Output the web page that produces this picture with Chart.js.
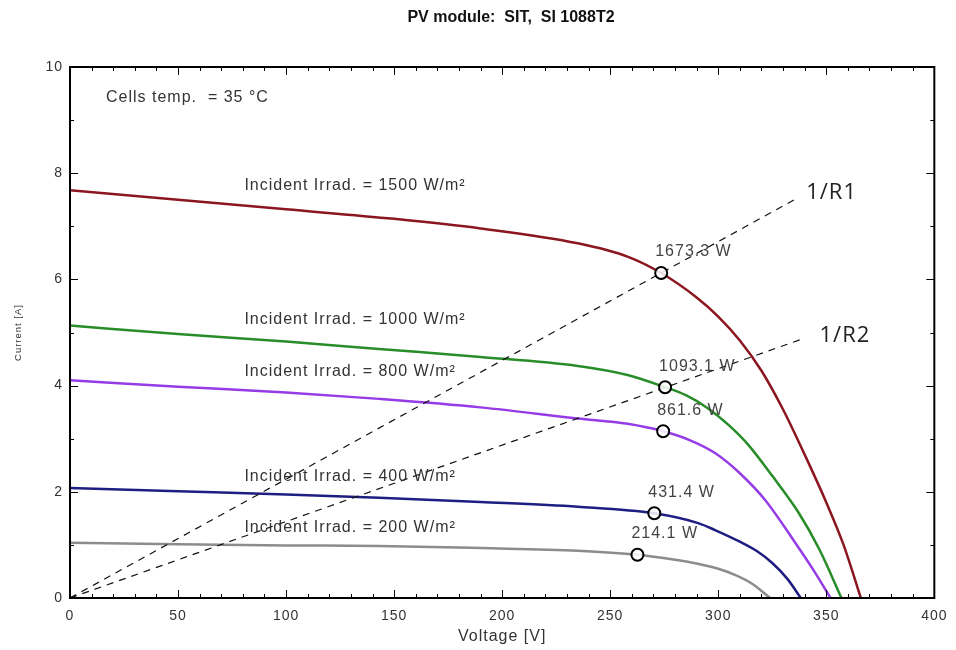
<!DOCTYPE html>
<html>
<head>
<meta charset="utf-8">
<script src="https://cdn.jsdelivr.net/npm/chart.js@4.4.1/dist/chart.umd.min.js"></script>
<style>
  html, body { margin: 0; padding: 0; background: #fff; }
  #wrap { width: 956px; height: 650px; }
</style>
</head>
<body>
<div id="wrap"><canvas id="ivChart" width="956" height="650"></canvas></div>
<script>
// I-V curves (voltage V, current A)
const irradLabels = ['1500', '1000', '800', '400', '200'];
const curveColors = ['rgb(140, 22, 32)', 'rgb(40, 140, 40)', 'rgb(150, 60, 230)', 'rgb(30, 30, 130)', 'rgb(140, 140, 140)'];

const volt1500 = [0, 50, 100, 150, 190, 235, 258, 273.6, 290, 300, 310, 320, 330, 340, 350, 358, 366];
const amp1500  = [7.68, 7.50, 7.32, 7.14, 6.96, 6.68, 6.43, 6.12, 5.66, 5.30, 4.85, 4.28, 3.55, 2.70, 1.80, 1.00, 0];

const volt1000 = [0, 50, 100, 143, 190, 235, 258, 275.4, 285, 295, 305, 314, 325, 337, 347, 357];
const amp1000  = [5.13, 4.97, 4.83, 4.69, 4.54, 4.37, 4.20, 3.97, 3.82, 3.58, 3.25, 2.88, 2.30, 1.62, 0.90, 0];

const volt800 = [0, 50, 100, 143, 190, 235, 258, 274.5, 287, 298.5, 310, 321.6, 336.8, 344, 352];
const amp800  = [4.10, 3.98, 3.87, 3.75, 3.59, 3.38, 3.28, 3.14, 2.97, 2.73, 2.35, 1.85, 0.97, 0.53, 0];

const volt400 = [0, 50, 100, 143, 190, 235, 270.4, 290.7, 298.5, 310, 318, 325, 332, 338.2];
const amp400  = [2.07, 2.01, 1.95, 1.89, 1.81, 1.72, 1.595, 1.41, 1.28, 1.06, 0.88, 0.66, 0.36, 0];

const volt200 = [0, 50, 100, 143, 190, 235, 262.6, 280, 290, 300, 308, 316, 324];
const amp200  = [1.04, 1.01, 0.99, 0.98, 0.94, 0.89, 0.815, 0.72, 0.65, 0.55, 0.43, 0.26, 0];

// maximum power points
const mppVolt = [273.6, 275.4, 274.5, 270.4, 262.6];
const mppAmp = [6.12, 3.97, 3.14, 1.595, 0.815];
const mppPower = ['1673.3 W', '1093.1 W', '861.6 W', '431.4 W', '214.1 W'];

// load lines 1/R1 and 1/R2 (from origin)
const loadNames = ['1/R1', '1/R2'];
const loadVolt = [[0, 337], [0, 339]];
const loadAmp = [[0, 7.54], [0, 4.88]];

// where the irradiance captions sit (data units)
const irradTextVolt = 80.7;
const irradTextAmp = [7.76, 5.25, 4.27, 2.28, 1.32];

const xTicks = [0, 50, 100, 150, 200, 250, 300, 350, 400];
const yTicks = [0, 2, 4, 6, 8, 10];

const curveVolts = [volt1500, volt1000, volt800, volt400, volt200];
const curveAmps = [amp1500, amp1000, amp800, amp400, amp200];

const FONT = '"Liberation Sans", Arial, sans-serif';

function toPoints(xs, ys) {
  return xs.map((x, i) => ({ x: x, y: ys[i] }));
}

function buildDatasets() {
  const sets = [];

  sets.push({
    label: 'MPP',
    data: toPoints(mppVolt, mppAmp),
    showLine: false,
    pointRadius: 6,
    pointBorderWidth: 2,
    pointBorderColor: '#000',
    pointBackgroundColor: 'rgba(255,255,255,0.85)',
    order: 0,
  });

  loadNames.forEach((name, i) => {
    sets.push({
      label: name,
      data: toPoints(loadVolt[i], loadAmp[i]),
      showLine: true,
      borderColor: '#111',
      borderWidth: 1.2,
      borderDash: [7, 6],
      pointRadius: 0,
      order: 1,
    });
  });

  irradLabels.forEach((irr, i) => {
    sets.push({
      label: irr + ' W/m²',
      data: toPoints(curveVolts[i], curveAmps[i]),
      showLine: true,
      borderColor: curveColors[i],
      borderWidth: 2.5,
      pointRadius: 0,
      cubicInterpolationMode: 'monotone',
      order: 2,
    });
  });

  return sets;
}

// frame, inward ticks and the loose texts on the plot
const framePlugin = {
  id: 'framePlugin',
  beforeDraw(chart) {
    // the source picture has widely spaced lettering
    chart.ctx.letterSpacing = '1px';
  },
  afterDatasetsDraw(chart) {
    const ctx = chart.ctx;
    const area = chart.chartArea;
    const xs = chart.scales.x;
    const ys = chart.scales.y;

    ctx.save();
    ctx.strokeStyle = '#000';
    ctx.lineWidth = 1;
    ctx.beginPath();
    for (let v = 0; v <= 400; v += 10) {
      const px = Math.round(xs.getPixelForValue(v)) + 0.5;
      const len = v % 50 === 0 ? 8 : 4;
      ctx.moveTo(px, area.bottom);
      ctx.lineTo(px, area.bottom - len);
      ctx.moveTo(px, area.top);
      ctx.lineTo(px, area.top + len);
    }
    for (let v = 0; v <= 10; v += 1) {
      const py = Math.round(ys.getPixelForValue(v)) + 0.5;
      const len = v % 2 === 0 ? 8 : 4;
      ctx.moveTo(area.left, py);
      ctx.lineTo(area.left + len, py);
      ctx.moveTo(area.right, py);
      ctx.lineTo(area.right - len, py);
    }
    ctx.stroke();

    ctx.lineWidth = 2;
    ctx.strokeRect(area.left, area.top, area.right - area.left, area.bottom - area.top);

    // title
    ctx.letterSpacing = '0px';
    ctx.fillStyle = '#111';
    ctx.font = 'bold 16px ' + FONT;
    ctx.textAlign = 'center';
    ctx.textBaseline = 'middle';
    ctx.fillText('PV module:  SIT,  SI 1088T2', 511, 18);

    ctx.letterSpacing = '1px';

    // cells temperature
    ctx.fillStyle = '#333';
    ctx.font = '16px ' + FONT;
    ctx.textAlign = 'left';
    ctx.fillText('Cells temp.  = 35 °C', area.left + 36, area.top + 31);

    // irradiance captions
    irradLabels.forEach((irr, i) => {
      ctx.fillText('Incident Irrad. = ' + irr + ' W/m²',
        xs.getPixelForValue(irradTextVolt), ys.getPixelForValue(irradTextAmp[i]));
    });

    // power at each MPP
    ctx.fillStyle = '#444';
    mppPower.forEach((txt, i) => {
      ctx.fillText(txt, xs.getPixelForValue(mppVolt[i]) - 6, ys.getPixelForValue(mppAmp[i]) - 21);
    });

    // load line names at the end of each dashed line
    ctx.fillStyle = '#222';
    ctx.font = '22px "Open Sans", ' + FONT;
    const nameGap = [[8, -5], [17, -3]];
    loadNames.forEach((name, i) => {
      const last = loadVolt[i].length - 1;
      ctx.fillText(name, xs.getPixelForValue(loadVolt[i][last]) + nameGap[i][0],
        ys.getPixelForValue(loadAmp[i][last]) + nameGap[i][1]);
    });
    ctx.restore();
  }
};

function drawChart() {
  const ctx = document.getElementById('ivChart').getContext('2d');

  new Chart(ctx, {
    type: 'scatter',
    data: { datasets: buildDatasets() },
    options: {
      responsive: false,
      animation: false,
      layout: { padding: { top: 67, right: 19, left: 0, bottom: 0 } },
      plugins: {
        legend: { display: false },
        tooltip: { enabled: false },
      },
      scales: {
        x: {
          type: 'linear',
          min: 0,
          max: 400,
          afterFit: (scale) => { scale.height = 52; },
          afterBuildTicks: (scale) => { scale.ticks = xTicks.map(v => ({ value: v })); },
          grid: { display: false, drawTicks: false },
          border: { display: false },
          ticks: { padding: 10, color: '#333', font: { size: 14, family: FONT } },
          title: {
            display: true,
            text: 'Voltage [V]',
            color: '#333',
            padding: { top: 0, bottom: 4 },
            font: { size: 16, family: FONT },
          },
        },
        y: {
          type: 'linear',
          min: 0,
          max: 10,
          afterFit: (scale) => { scale.width = 70; },
          afterBuildTicks: (scale) => { scale.ticks = yTicks.map(v => ({ value: v })); },
          grid: { display: false, drawTicks: false },
          border: { display: false },
          ticks: { padding: 7, color: '#333', font: { size: 14, family: FONT } },
          title: {
            display: true,
            text: 'Current [A]',
            color: '#333',
            padding: { top: 13, bottom: 0 },
            font: { size: 9.5, family: FONT },
          },
        },
      },
    },
    plugins: [framePlugin],
  });
}

document.addEventListener('DOMContentLoaded', () => {
  drawChart();
});
</script>
</body>
</html>
